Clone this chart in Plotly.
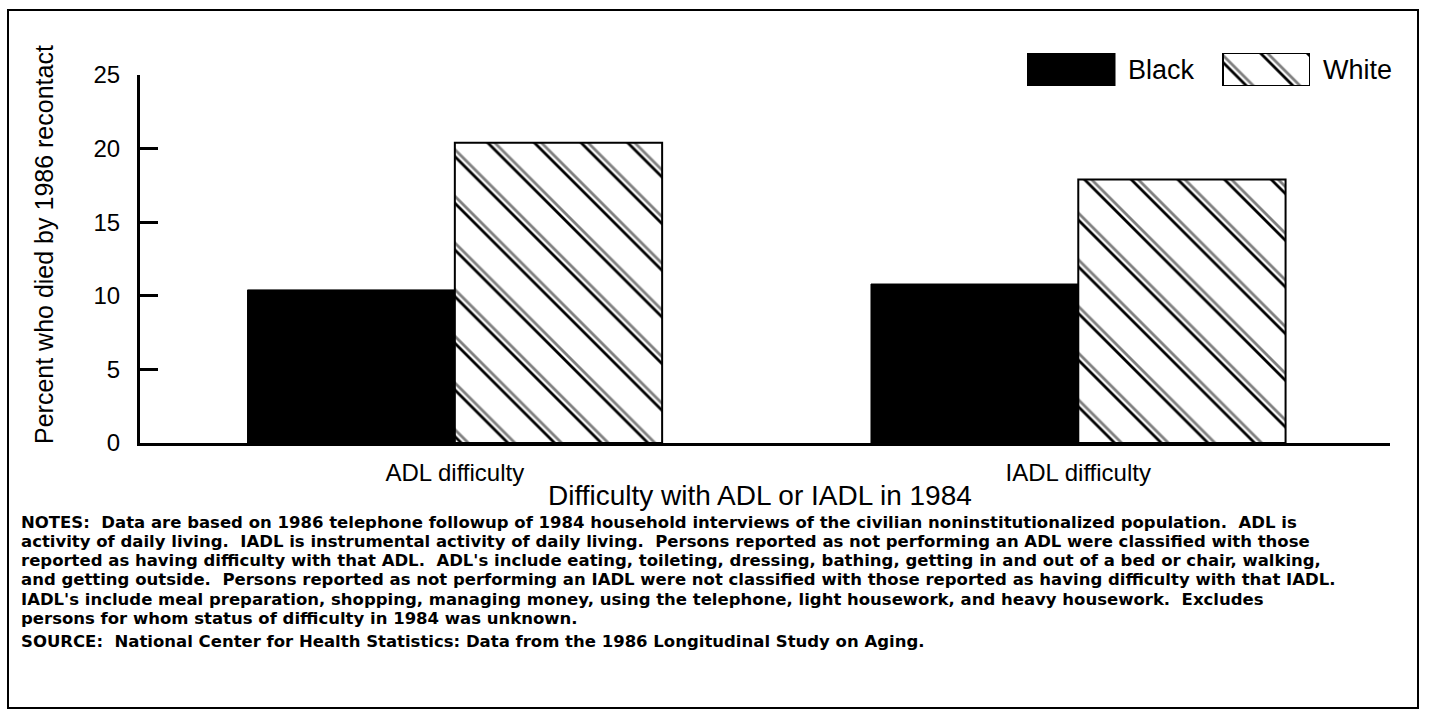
import plotly.graph_objects as go

# Percent of persons who died by the 1986 recontact, by 1984 difficulty status
categories = ["ADL difficulty", "IADL difficulty"]
black_pct = [10.4, 10.8]
white_pct = [20.4, 17.9]
series_names = ["Black", "White"]
y_ticks = [0, 5, 10, 15, 20, 25]

x_title = "Difficulty with ADL or IADL in 1984"
y_title = "Percent who died by 1986 recontact"
notes_lines = [
    "NOTES:  Data are based on 1986 telephone followup of 1984 household interviews of the civilian noninstitutionalized population.  ADL is",
    "activity of daily living.  IADL is instrumental activity of daily living.  Persons reported as not performing an ADL were classified with those",
    "reported as having difficulty with that ADL.  ADL's include eating, toileting, dressing, bathing, getting in and out of a bed or chair, walking,",
    "and getting outside.  Persons reported as not performing an IADL were not classified with those reported as having difficulty with that IADL.",
    "IADL's include meal preparation, shopping, managing money, using the telephone, light housework, and heavy housework.  Excludes",
    "persons for whom status of difficulty in 1984 was unknown.",
]
source_line = "SOURCE:  National Center for Health Statistics: Data from the 1986 Longitudinal Study on Aging."

# Canvas and plot-area geometry (pixels)
W, H = 1429, 714
L, R, T, B = 140, 39, 40, 271
PW = W - L - R
PH = H - T - B
Y_TOP_PX = 75          # pixel row where the y axis ends (value 25)
X_RANGE = [-0.505, 1.5]
BAR_W = (1 - 0.335) / 2  # width of one bar within a category group

# Hatch: pairs of "\" lines; the second line of each pair comes from an
# identical pattern drawn on an axis whose origin is shifted a few pixels
HATCH_SIZE, HATCH_SOLID, PAIR_SHIFT = 33, 0.085, 7


def px(x):
    return (x - L) / PW


def py(y):
    return (H - B - y) / PH


def hatch(bg):
    return dict(shape="\\", size=HATCH_SIZE, solidity=HATCH_SOLID, fgcolor="black",
                bgcolor=bg, fillmode="replace")


def hatch_overlay():
    return dict(shape="\\", size=HATCH_SIZE, solidity=HATCH_SOLID, fgcolor="black",
                fillmode="overlay")


FONT = "Liberation Sans, Arial, Helvetica, sans-serif"
NOTE_FONT = dict(family="DejaVu Sans, Verdana, sans-serif", size=16.5, weight="bold")
CLEAR = "rgba(0,0,0,0)"

fig = go.Figure()

fig.add_bar(x=categories, y=black_pct, name=series_names[0],
            marker=dict(color="black", line=dict(color="black", width=1)),
            showlegend=False)
fig.add_bar(x=categories, y=white_pct, name=series_names[1],
            marker=dict(color="white", pattern=hatch("white"),
                        line=dict(color="black", width=2)),
            showlegend=False)
# second line of each hatch pair
fig.add_bar(x=categories, y=white_pct, name=series_names[1], xaxis="x3",
            offset=0, width=BAR_W,
            marker=dict(color=CLEAR, pattern=hatch_overlay(), line=dict(width=0)),
            showlegend=False, hoverinfo="skip")

# Legend keys drawn as bars on a small auxiliary axis
KEY_X, KEY_W = [44, 239.5], [88, 87]
fig.add_bar(x=KEY_X[:1], y=[1], width=KEY_W[:1], xaxis="x2", yaxis="y2",
            marker=dict(color="black", line=dict(color="black", width=1)),
            showlegend=False, hoverinfo="skip")
fig.add_bar(x=KEY_X[1:], y=[1], width=KEY_W[1:], xaxis="x2", yaxis="y2",
            marker=dict(color="white", pattern=hatch("white"),
                        line=dict(color="black", width=2)),
            showlegend=False, hoverinfo="skip")
fig.add_bar(x=KEY_X[1:], y=[1], width=KEY_W[1:], xaxis="x4", yaxis="y2",
            marker=dict(color=CLEAR, pattern=hatch_overlay(), line=dict(width=0)),
            showlegend=False, hoverinfo="skip")

dx = (X_RANGE[1] - X_RANGE[0]) / PW
fig.update_layout(
    width=W, height=H,
    margin=dict(l=L, r=R, t=T, b=B),
    paper_bgcolor="white", plot_bgcolor=CLEAR,
    barmode="group", bargap=0.335, bargroupgap=0,
    font=dict(family=FONT, color="black", size=24),
    xaxis=dict(range=X_RANGE, showline=True, linewidth=3, linecolor="black",
               ticks="", showgrid=False, zeroline=False,
               tickfont=dict(size=24), ticklabelstandoff=6),
    yaxis=dict(range=[0, 25], domain=[0, (H - B - Y_TOP_PX) / PH],
               tickvals=y_ticks, showline=True, linewidth=3, linecolor="black",
               ticks="inside", ticklen=18, tickwidth=3, tickcolor="black",
               showgrid=False, zeroline=False, tickfont=dict(size=24),
               ticklabelstandoff=12),
    xaxis3=dict(domain=[PAIR_SHIFT / PW, 1], range=[X_RANGE[0] + PAIR_SHIFT * dx, X_RANGE[1]],
                anchor="y", visible=False, fixedrange=True,
                categoryorder="array", categoryarray=categories),
    xaxis2=dict(domain=[px(1027), px(1310)], range=[0, 283], anchor="y2",
                visible=False, fixedrange=True),
    xaxis4=dict(domain=[px(1027 + PAIR_SHIFT), px(1310)], range=[PAIR_SHIFT, 283], anchor="y2",
                visible=False, fixedrange=True),
    yaxis2=dict(domain=[py(86), py(53)], range=[0, 1], anchor="x2",
                visible=False, fixedrange=True),
)

annotations = [
    dict(text=series_names[0], x=px(1126), y=py(70), xanchor="left", yanchor="middle",
         font=dict(size=27)),
    dict(text=series_names[1], x=px(1321), y=py(70), xanchor="left", yanchor="middle",
         font=dict(size=27)),
    dict(text=x_title, x=px(760), y=py(495.5), xanchor="center", yanchor="middle",
         font=dict(size=28)),
    dict(text=y_title, x=px(44), y=py(245), xanchor="center", yanchor="middle",
         textangle=-90, font=dict(size=25)),
]
NOTE_X, NOTE_Y0, NOTE_DY = 19, 522, 19.3
for i, line in enumerate(notes_lines):
    annotations.append(dict(text=line, x=px(NOTE_X), y=py(NOTE_Y0 + i * NOTE_DY),
                            xanchor="left", yanchor="middle", font=NOTE_FONT))
annotations.append(dict(text=source_line, x=px(NOTE_X),
                        y=py(NOTE_Y0 + len(notes_lines) * NOTE_DY + 4),
                        xanchor="left", yanchor="middle", font=NOTE_FONT))
for a in annotations:
    a.update(xref="paper", yref="paper", showarrow=False)
fig.update_layout(annotations=annotations)

# Frame around the whole figure
fig.add_shape(type="rect", xref="paper", yref="paper",
              x0=px(8), x1=px(1418), y0=py(708), y1=py(10),
              line=dict(color="black", width=2), fillcolor=CLEAR)

fig.write_html("out.html")
